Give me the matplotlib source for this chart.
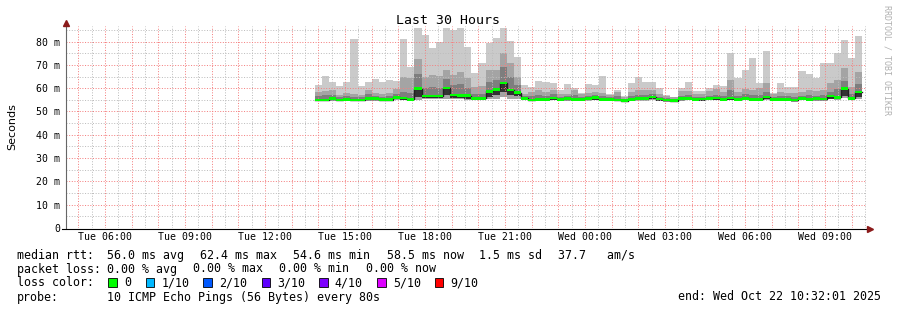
import numpy as np
import pandas as pd
import matplotlib
matplotlib.use('Agg')
import matplotlib.pyplot as plt
import matplotlib.dates as mdates
from matplotlib.patches import Rectangle
from matplotlib.lines import Line2D

# ---------------- data ----------------
chart_start = pd.Timestamp('2025-10-21 04:32:01')
chart_end = pd.Timestamp('2025-10-22 10:32:01')
data_start = pd.Timestamp('2025-10-21 13:52:00')
step = '16min'

median_ms = [54.9, 54.9, 55.5, 54.9, 55.2, 54.9, 54.9, 55.5, 55.5, 55.1, 55.1, 56.1, 55.8, 55.2,
             59.8, 56.6, 56.6, 56.6, 60.1, 57.1, 56.8, 56.8, 55.6, 55.6, 58.6, 59.5, 62.3, 59.2, 58.1,
             55.6, 54.9, 55.2, 55.2, 55.8, 55.2, 55.5, 55.2, 55.2, 55.6, 55.9,
             55.2, 55.2, 54.9, 54.6, 55.2, 55.6, 55.6, 56.3, 55.3, 54.9, 54.6, 55.5, 55.6, 55.2, 55.3, 55.6, 55.7,
             55.2, 55.8, 55.2, 55.6, 55.2, 55.2, 56.3, 55.2, 55.2, 55.2, 54.9, 55.6, 55.2, 55.5, 55.3, 56.6,
             56.1, 59.8, 55.6, 58.3]
top_ms = [61.3, 65.2, 62.6, 60.9, 62.6, 81.1, 60.9, 62.6, 63.9, 62.6, 63.5, 63.2, 81.1, 69.2,
          85.8, 82.8, 77.4, 79.9, 85.8, 84.9, 85.8, 77.8, 66.4, 70.6, 79.2, 81.4, 85.8, 80.2, 73.5,
          61.3, 60.6, 63.1, 62.6, 62.1, 59.2, 61.8, 59.9, 57.8, 61.8, 61.5,
          65.2, 57.5, 59.2, 56.6, 62.3, 64.9, 62.8, 62.5, 59.9, 57.1, 56.3, 59.9, 62.8, 58.9, 58.9, 59.9, 61.3,
          61.0, 74.9, 64.2, 67.8, 72.8, 62.1, 75.9, 57.8, 62.3, 60.3, 60.3, 67.5, 65.9, 64.5, 70.6, 70.6,
          74.9, 80.7, 73.1, 82.4]
mid_ms = [58.5, 58.8, 59.2, 57.0, 58.0, 57.5, 57.0, 59.2, 58.0, 57.5, 57.8, 59.5, 64.6, 64.2,
          72.4, 64.6, 65.6, 65.2, 67.8, 65.6, 67.0, 64.2, 60.6, 60.9, 68.0, 67.8, 75.2, 70.6, 64.9,
          57.5, 58.5, 59.2, 58.5, 59.2, 57.5, 57.5, 59.2, 57.5, 58.0, 58.5,
          57.8, 57.0, 58.5, 56.3, 58.5, 59.2, 59.2, 59.2, 57.3, 56.5, 56.0, 58.9, 58.9, 57.3, 57.3, 58.9, 59.5,
          58.5, 63.5, 58.5, 59.8, 59.2, 59.9, 62.3, 57.3, 58.3, 57.8, 57.8, 58.5, 59.2, 58.9, 59.2, 62.1,
          63.5, 68.8, 60.6, 67.1]
inner_ms = [56.5, 57.0, 57.0, 56.0, 56.5, 56.3, 56.0, 57.5, 56.5, 56.3, 56.5, 57.5, 58.5, 58.0,
            66.0, 60.0, 60.5, 60.0, 64.0, 61.5, 62.0, 60.0, 57.5, 57.5, 62.5, 63.5, 69.0, 65.0, 61.5,
            56.5, 56.5, 57.0, 56.8, 57.3, 56.3, 56.5, 57.0, 56.3, 56.8, 57.0,
            56.5, 56.0, 56.5, 55.5, 56.5, 57.0, 57.0, 57.5, 56.3, 55.8, 55.5, 56.8, 57.0, 56.3, 56.3, 56.8, 57.0,
            56.8, 59.0, 56.8, 57.5, 57.0, 57.0, 58.5, 56.3, 56.8, 56.5, 56.3, 56.8, 57.0, 56.8, 57.0, 58.5,
            59.5, 63.0, 57.5, 62.0]
low_ms = [54.3, 54.3, 54.6, 54.3, 54.5, 54.3, 54.3, 54.6, 54.6, 54.4, 54.4, 55.0, 54.8, 54.5,
          55.0, 55.2, 55.3, 55.2, 55.4, 55.4, 55.2, 55.0, 54.8, 54.8, 55.3, 55.5, 56.0, 55.5, 55.2,
          54.8, 54.3, 54.5, 54.5, 54.8, 54.5, 54.6, 54.5, 54.5, 54.7, 54.9,
          54.5, 54.5, 54.3, 54.0, 54.5, 54.7, 54.7, 55.0, 54.5, 54.2, 54.0, 54.7, 54.8, 54.5, 54.5, 54.8, 54.8,
          54.5, 54.8, 54.5, 54.8, 54.5, 54.5, 55.0, 54.5, 54.5, 54.5, 54.2, 54.8, 54.5, 54.7, 54.6, 55.2,
          55.0, 55.8, 54.8, 55.5]
core_ms = [54.5, 54.5, 54.8, 54.5, 54.7, 54.5, 54.5, 54.8, 54.8, 54.6, 54.6, 55.3, 55.0, 54.7,
           56.0, 55.6, 55.7, 55.6, 57.0, 55.8, 55.6, 55.5, 55.0, 55.0, 56.2, 57.0, 58.5, 57.0, 56.5,
           55.0, 54.5, 54.7, 54.7, 55.0, 54.7, 54.8, 54.7, 54.7, 54.9, 55.1,
           54.7, 54.7, 54.5, 54.2, 54.7, 54.9, 54.9, 55.3, 54.7, 54.4, 54.2, 54.9, 55.0, 54.7, 54.7, 55.0, 55.0,
           54.7, 55.0, 54.7, 55.0, 54.7, 54.7, 55.3, 54.7, 54.7, 54.7, 54.4, 55.0, 54.7, 54.9, 54.8, 55.5,
           55.3, 56.5, 55.0, 56.0]

y_ticks = [0, 10, 20, 30, 40, 50, 60, 70, 80]
y_labels = ['0', '10 m', '20 m', '30 m', '40 m', '50 m', '60 m', '70 m', '80 m']

loss_labels = ['0', '1/10', '2/10', '3/10', '4/10', '5/10', '9/10']
loss_colors = ['#00ff00', '#00b8ff', '#0059ff', '#5e00ff', '#7e00ff', '#dd00ff', '#ff0000']

# ---------------- figure ----------------
W, H = 897, 310
MONO = 'DejaVu Sans Mono'
fig = plt.figure(figsize=(W / 100, H / 100), dpi=100)
fig.patch.set_facecolor('white')

ax_l, ax_r, ax_b, ax_t = 66, 866, 228, 26.4
ax = fig.add_axes([ax_l / W, 1 - ax_b / H, (ax_r - ax_l) / W, (ax_b - ax_t) / H])
ax.set_facecolor('white')

x0 = mdates.date2num(chart_start.to_pydatetime())
x1 = mdates.date2num(chart_end.to_pydatetime())
ymax = 86.5
ax.set_xlim(x0, x1)
ax.set_ylim(0, ymax)

n = len(median_ms)
edges = pd.date_range(data_start, periods=n + 1, freq=step)
xe = mdates.date2num(edges.to_pydatetime())


def ext(a):
    a = np.asarray(a, dtype=float)
    return np.append(a, a[-1])


fb = dict(step='post', linewidth=0, antialiased=False)
ax.fill_between(xe, ext(low_ms), ext(top_ms), color='#cacaca', zorder=1, **fb)
ax.fill_between(xe, ext(low_ms), ext(mid_ms), color='#a4a4a4', zorder=2, **fb)
ax.fill_between(xe, ext(core_ms), ext(inner_ms), color='#7e7e7e', zorder=3, **fb)
ax.fill_between(xe, ext(core_ms), ext(median_ms), color='#323232', zorder=4, **fb)

# grid (drawn over smoke), dotted
gkw = dict(linestyle=':', linewidth=0.72, zorder=5, snap=True)
for t in pd.date_range('2025-10-21 05:30', chart_end, freq='h'):
    ax.axvline(mdates.date2num(t.to_pydatetime()), color='#bdbdbd', **gkw)
for t in pd.date_range('2025-10-21 05:00', chart_end, freq='h'):
    ax.axvline(mdates.date2num(t.to_pydatetime()), color='#f48080', **gkw)
for v in np.arange(5, ymax, 10):
    ax.axhline(v, color='#bdbdbd', **gkw)
for v in y_ticks[1:]:
    ax.axhline(v, color='#f48080', **gkw)

# median line + loss-colour band
ax.step(xe, ext(median_ms), where='post', color='#202020', linewidth=1.0, zorder=6)
med = ext(median_ms)
ax.fill_between(xe, med - 0.55, med + 0.55, color='#00ff00', zorder=7, **fb)

# axes, ticks
for s in ax.spines.values():
    s.set_visible(False)
ax.set_yticks(y_ticks)
ax.set_yticklabels(y_labels, fontfamily=MONO, fontsize=7.1)
ax.xaxis.set_major_locator(mdates.HourLocator(byhour=range(0, 24, 3)))
ax.xaxis.set_major_formatter(mdates.DateFormatter('%a %H:%M'))
for lab in ax.get_xticklabels():
    lab.set_fontfamily(MONO)
    lab.set_fontsize(7.1)
ax.tick_params(axis='y', length=0, pad=4.3, colors='black')
ax.tick_params(axis='x', length=0, pad=3.2, colors='black')

# axis lines and arrows
def fx(px):
    return px / W


def fy(py):
    return 1 - py / H


fig.add_artist(Line2D([fx(66), fx(66)], [fy(228), fy(24)], color='#666666', lw=0.8))
fig.add_artist(Line2D([fx(62), fx(867)], [fy(228.5), fy(228.5)], color='black', lw=0.8))
fig.add_artist(Line2D([fx(66)], [fy(22.5)], marker='^', markersize=4.5, color='#8b1a1a', lw=0))
fig.add_artist(Line2D([fx(869.5)], [fy(228.5)], marker='>', markersize=4.5, color='#8b1a1a', lw=0))

# title, unit label, watermark
fig.text(fx(448), fy(20), 'Last 30 Hours', fontfamily=MONO, fontsize=9.5, ha='center', va='center')
fig.text(fx(12), fy(127), 'Seconds', fontfamily='DejaVu Sans', fontsize=8, rotation=90,
         ha='center', va='center')
fig.text(fx(887), fy(5), 'RRDTOOL / TOBI OETIKER', fontfamily=MONO, fontsize=6, rotation=270,
         ha='center', va='top', color='#b0b0b0')

# legend
LF = dict(fontfamily=MONO, fontsize=8.4, va='baseline', ha='left')
b1, b2, b3, b4 = 259, 272.5, 286.5, 300.5
fig.text(fx(16.7), fy(b1), 'median rtt:', **LF)
for xp, s in [(107.3, '56.0 ms avg'), (200.0, '62.4 ms max'), (293.3, '54.6 ms min'),
              (386.7, '58.5 ms now'), (479.3, '1.5 ms sd'), (558.3, '37.7   am/s')]:
    fig.text(fx(xp), fy(b1), s, **LF)
fig.text(fx(16.7), fy(b2), 'packet loss:', **LF)
for xp, s in [(107.3, '0.00 % avg'), (193.3, '0.00 % max'), (279.3, '0.00 % min'),
              (365.7, '0.00 % now')]:
    fig.text(fx(xp), fy(b2), s, **LF)
fig.text(fx(16.7), fy(b3), 'loss color:', **LF)
sq_x = [108.3, 145.7, 203.3, 261.7, 319.3, 377.3, 435.0]
for xp, lab, col in zip(sq_x, loss_labels, loss_colors):
    fig.add_artist(Rectangle((fx(xp), fy(286.7)), 8.4 / W, 8.4 / H, facecolor=col,
                             edgecolor='black', lw=0.6))
    fig.text(fx(xp + 15.5), fy(b3), lab, **LF)
fig.text(fx(16.7), fy(b4), 'probe:', **LF)
fig.text(fx(107.3), fy(b4), '10 ICMP Echo Pings (56 Bytes) every 80s', **LF)
fig.text(fx(880.5), fy(b4), 'end: Wed Oct 22 10:32:01 2025', **dict(LF, ha='right'))

fig.savefig('out.png', dpi=100, facecolor='white')
